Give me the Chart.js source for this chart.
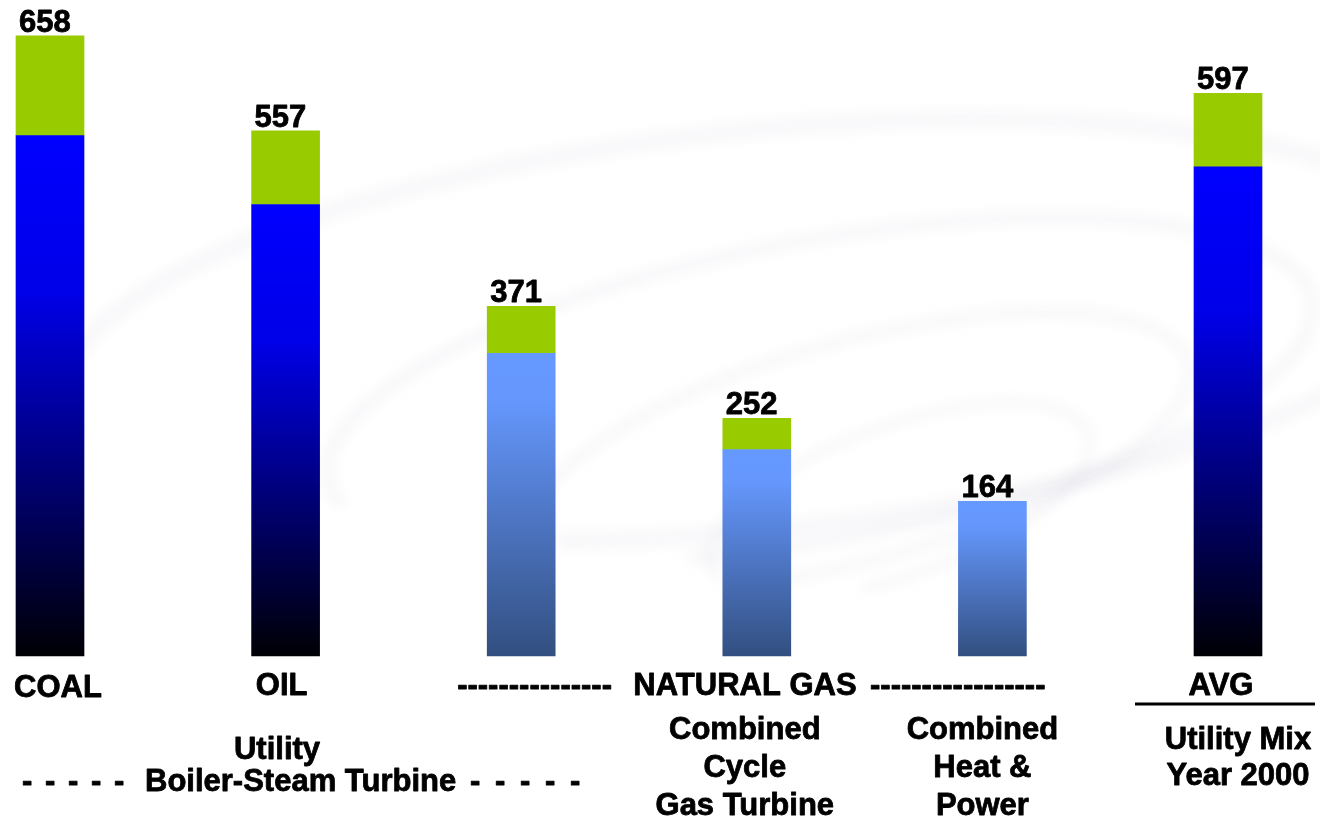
<!DOCTYPE html>
<html>
<head>
<meta charset="utf-8">
<script src="https://cdn.jsdelivr.net/npm/chart.js@4/dist/chart.umd.min.js"></script>
<style>
    html, body { margin: 0; padding: 0; background: #ffffff; }
    #wrap { position: relative; width: 1320px; height: 821px; }
</style>
</head>
<body>
<div id="wrap"><canvas id="emissions"></canvas></div>
<script>
// values
const categories = ["COAL", "OIL", "NATURAL GAS (boiler)", "Combined Cycle Gas Turbine", "Combined Heat & Power", "AVG Utility Mix 2000"];
const fuel = ["coal", "oil", "gas", "gas", "gas", "avg"];
const totals = [658, 557, 371, 252, 164, 597];
const baseValues = [552, 479, 321, 219, 164, 519];
const topValues = [106, 78, 50, 33, null, 78];

const FONT = 'bold 31px "Liberation Sans", Arial, sans-serif';

function baseFill(context) {
    const chart = context.chart;
    const area = chart.chartArea;
    if (!area) return "#0000ff";
    const i = context.dataIndex;
    const y = chart.scales.y;
    const top = y.getPixelForValue(baseValues[i]);
    const bottom = y.getPixelForValue(0);
    const g = chart.ctx.createLinearGradient(0, top, 0, bottom);
    if (fuel[i] === "gas") {
        g.addColorStop(0, "#6699ff");
        g.addColorStop(0.15, "#6597fd");
        g.addColorStop(1, "#324f80");
    } else {
        g.addColorStop(0, "#0000ff");
        g.addColorStop(0.3, "#0000e8");
        g.addColorStop(1, "#000005");
    }
    return g;
}

// faint swirl behind the bars
const swirl = {
    id: "swirl",
    beforeDraw(chart) {
        const ctx = chart.ctx;
        ctx.save();
        ctx.filter = "blur(6px)";
        ctx.strokeStyle = "rgba(190, 195, 210, 0.11)";
        ctx.lineCap = "round";
        const rings = [
            [760, 330, 700, 200, -0.1, 18],
            [820, 390, 500, 150, -0.18, 14],
            [860, 450, 340, 110, -0.26, 12],
            [900, 500, 200, 75, -0.34, 10],
        ];
        rings.forEach(([cx, cy, rx, ry, rot, w]) => {
            ctx.lineWidth = w;
            ctx.beginPath();
            ctx.ellipse(cx, cy, rx, ry, rot, Math.PI * 0.95, Math.PI * 2.6);
            ctx.stroke();
        });
        ctx.restore();
    },
};

function boldText(ctx, t, x, y) {
    ctx.fillText(t, x, y);
    ctx.strokeText(t, x, y);
}

// totals above bars and the text block under the chart
const labels = {
    id: "labels",
    afterDatasetsDraw(chart) {
        const ctx = chart.ctx;
        const x = chart.scales.x;
        const y = chart.scales.y;
        ctx.save();
        ctx.font = FONT;
        ctx.fillStyle = "#000000";
        ctx.strokeStyle = "#000000";
        ctx.lineWidth = 0.8;
        ctx.lineJoin = "round";

        const meta = chart.getDatasetMeta(0);
        totals.forEach((v, i) => {
            const bar = meta.data[i];
            const left = bar.x - bar.width / 2;
            ctx.textAlign = "left";
            ctx.textBaseline = "alphabetic";
            boldText(ctx, String(v), left + 3, y.getPixelForValue(v) - 4);
        });

        ctx.textBaseline = "middle";
        ctx.textAlign = "center";
        boldText(ctx, "COAL", x.getPixelForValue(0) + 8, 688);
        boldText(ctx, "OIL", x.getPixelForValue(1) - 4, 686);
        boldText(ctx, "AVG", x.getPixelForValue(5) - 7, 686);

        // natural gas span
        ctx.textAlign = "right";
        boldText(ctx, "---------------", 612, 686);
        ctx.textAlign = "center";
        boldText(ctx, "NATURAL GAS", 745, 686);
        ctx.textAlign = "left";
        boldText(ctx, "-----------------", 870, 686);

        // AVG rule
        ctx.save();
        ctx.lineWidth = 3;
        ctx.beginPath();
        ctx.moveTo(1135, 704);
        ctx.lineTo(1315, 704);
        ctx.stroke();
        ctx.restore();

        // utility boiler span
        ctx.textAlign = "center";
        boldText(ctx, "Utility", 277, 750);
        ctx.textAlign = "left";
        boldText(ctx, "Boiler-Steam Turbine", 145, 782);
        for (let k = 0; k < 5; k++) {
            boldText(ctx, "-", 22 + k * 23, 782);
            boldText(ctx, "-", 470 + k * 25, 782);
        }

        ctx.textAlign = "center";
        const cc = x.getPixelForValue(3);
        ["Combined", "Cycle", "Gas Turbine"].forEach((t, k) => boldText(ctx, t, cc - 12, 730 + k * 38));
        const chp = x.getPixelForValue(4);
        ["Combined", "Heat &", "Power"].forEach((t, k) => boldText(ctx, t, chp - 10, 730 + k * 38));
        const avg = x.getPixelForValue(5);
        ["Utility Mix", "Year 2000"].forEach((t, k) => boldText(ctx, t, avg + 10, 740 + k * 36));
        ctx.restore();
    },
};

new Chart(document.getElementById("emissions"), {
    type: "bar",
    data: {
        labels: categories,
        datasets: [
            {
                label: "base",
                data: baseValues,
                backgroundColor: baseFill,
                borderWidth: 0,
                barThickness: 68,
                clip: false,
            },
            {
                label: "upstream",
                data: topValues,
                backgroundColor: "#99cc00",
                borderWidth: 0,
                barThickness: 68,
                clip: false,
            },
        ],
    },
    options: {
        responsive: true,
        maintainAspectRatio: false,
        animation: false,
        layout: {
            padding: { left: 50, right: 92, top: 15, bottom: 165 },
        },
        plugins: {
            legend: { display: false },
            tooltip: { enabled: false },
        },
        scales: {
            x: {
                stacked: true,
                offset: false,
                display: false,
            },
            y: {
                stacked: true,
                min: 0,
                max: 680,
                display: false,
            },
        },
    },
    plugins: [swirl, labels],
});
</script>
</body>
</html>
